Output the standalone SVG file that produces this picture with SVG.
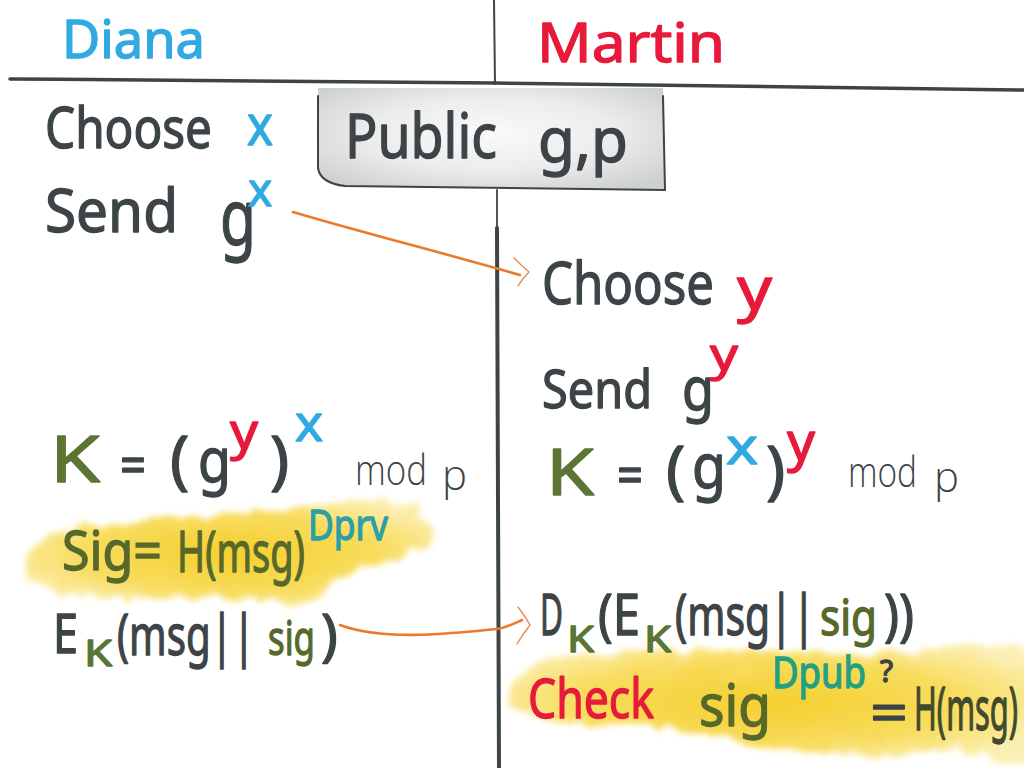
<svg xmlns="http://www.w3.org/2000/svg" width="1024" height="768" viewBox="0 0 1024 768">
<defs>
<style>
.f{font-family:"Noto Sans","DejaVu Sans",sans-serif;stroke-width:1.3;stroke-linejoin:round;}
.thin{font-family:"Open Sans","Noto Sans",sans-serif;font-weight:300;fill:#3d4447;}
.ink{fill:#3d4447;stroke:#3d4447;}
.blue{fill:#31a9e1;stroke:#31a9e1;}
.red{fill:#e81a3b;stroke:#e81a3b;}
.green{fill:#5b7634;stroke:#5b7634;}
.olive{fill:#56692b;stroke:#56692b;}
.dk{fill:#414a2c;stroke:#414a2c;}
.teal{fill:#2a9fa8;stroke:#2a9fa8;}
.tealg{fill:#22a084;stroke:#22a084;}
.line{stroke:#3d4447;fill:none;stroke-linecap:round;}
.arrow{stroke:#ec7a2c;fill:none;stroke-width:2.6;stroke-linecap:round;}
.head{stroke:#ef8a45;fill:none;stroke-width:1.4;stroke-linecap:round;stroke-linejoin:round;}
</style>
<radialGradient id="boxg" cx="50%" cy="45%" r="65%">
<stop offset="0" stop-color="#fafafa"/>
<stop offset="0.55" stop-color="#ececec"/>
<stop offset="1" stop-color="#cfd0d1"/>
</radialGradient>
<radialGradient id="hl" cx="50%" cy="50%" r="60%">
<stop offset="0" stop-color="#f5cf2f"/>
<stop offset="0.6" stop-color="#f8dc5c"/>
<stop offset="1" stop-color="#fcefb4"/>
</radialGradient>
<filter id="rough" x="-10%" y="-25%" width="120%" height="150%">
<feTurbulence type="fractalNoise" baseFrequency="0.045" numOctaves="3" seed="3" result="n"/>
<feDisplacementMap in="SourceGraphic" in2="n" scale="18" xChannelSelector="R" yChannelSelector="G" result="d"/>
<feGaussianBlur in="d" stdDeviation="3"/>
</filter>
</defs>
<rect width="1024" height="768" fill="#ffffff"/>

<g id="highlights">
<path filter="url(#rough)" fill="url(#hl)" d="M30,560 C 40,530 90,525 140,520 C 200,512 260,515 320,505 C 370,495 420,500 432,525 C 440,550 400,560 340,575 C 320,600 300,615 270,600 C 220,595 150,600 90,598 C 50,596 22,585 30,560 Z"/>
<path filter="url(#rough)" fill="url(#hl)" d="M510,690 C 520,660 570,650 640,652 C 720,648 800,650 880,655 C 950,645 1000,640 1030,650 L 1030,760 C 990,765 960,740 920,752 C 870,760 820,755 770,745 C 700,735 640,725 580,722 C 530,720 502,710 510,690 Z"/>
</g>

<g id="grid">
<path class="line" stroke-width="3.5" d="M10,79 C 200,80 400,82 495,83 C 700,85 900,88 1024,90"/>
<path class="line" stroke-width="2" d="M494,0 L495,84"/>
<path class="line" stroke-width="1.8" d="M497,190 L497,230"/>
<path class="line" stroke-width="4" d="M497,228 L499,768"/>
</g>

<g id="header-diana"><text class="f blue" x="62" y="58" font-size="52" textLength="143" lengthAdjust="spacingAndGlyphs">Diana</text></g>
<g id="header-martin"><text class="f red" x="537" y="62" font-size="54" textLength="188" lengthAdjust="spacingAndGlyphs">Martin</text></g>

<g id="public-box">
<path fill="url(#boxg)" d="M318,88 L663,88 L665,190 L345,186 Q320,183 318,168 Z"/>
<path class="line" stroke-width="2" d="M318,96 L318,168 Q320,183 345,186 L665,190 L663,96"/>
<text class="f ink" x="345" y="158" font-size="62" textLength="152" lengthAdjust="spacingAndGlyphs">Public</text>
<text class="f ink" x="538" y="162" font-size="62" textLength="90" lengthAdjust="spacingAndGlyphs">g,p</text>
</g>

<g id="diana-choose">
<text class="f ink" x="45" y="148" font-size="56" textLength="167" lengthAdjust="spacingAndGlyphs">Choose</text>
<text class="f blue" x="247" y="145" font-size="56" textLength="26" lengthAdjust="spacingAndGlyphs">x</text>
</g>
<g id="diana-send">
<text class="f ink" x="45" y="232" font-size="60" textLength="133" lengthAdjust="spacingAndGlyphs">Send</text>
<text class="f ink" x="220" y="245" font-size="76" textLength="36" lengthAdjust="spacingAndGlyphs">g</text>
<text class="f blue" x="248" y="206" font-size="46" textLength="24" lengthAdjust="spacingAndGlyphs">x</text>
</g>

<g id="martin-choose">
<text class="f ink" x="542" y="304" font-size="58" textLength="172" lengthAdjust="spacingAndGlyphs">Choose</text>
<text class="f red" x="737" y="310" font-size="60" textLength="35" lengthAdjust="spacingAndGlyphs">y</text>
</g>
<g id="martin-send">
<text class="f ink" x="542" y="408" font-size="52" textLength="110" lengthAdjust="spacingAndGlyphs">Send</text>
<text class="f ink" x="682" y="410" font-size="60" textLength="32" lengthAdjust="spacingAndGlyphs">g</text>
<text class="f red" x="710" y="370" font-size="44" textLength="28" lengthAdjust="spacingAndGlyphs">y</text>
</g>

<g id="martin-key">
<text class="f green" x="546" y="495" font-size="64" textLength="48" lengthAdjust="spacingAndGlyphs">K</text>
<text class="f ink" x="617" y="494" font-size="52" textLength="26" lengthAdjust="spacingAndGlyphs">=</text>
<text class="f ink" x="666" y="492" font-size="64">(</text>
<text class="f ink" x="692" y="488" font-size="62" textLength="34" lengthAdjust="spacingAndGlyphs">g</text>
<text class="f blue" x="726" y="464" font-size="50" textLength="32" lengthAdjust="spacingAndGlyphs">x</text>
<text class="f ink" x="766" y="492" font-size="64">)</text>
<text class="f red" x="787" y="460" font-size="52" textLength="28" lengthAdjust="spacingAndGlyphs">y</text>
<text class="thin" x="848" y="487" font-size="42" textLength="69" lengthAdjust="spacingAndGlyphs">mod</text>
<text class="thin" x="934" y="492" font-size="42">p</text>
</g>

<g id="diana-key">
<text class="f green" x="50" y="482" font-size="64" textLength="50" lengthAdjust="spacingAndGlyphs">K</text>
<text class="f ink" x="120" y="484" font-size="52" textLength="26" lengthAdjust="spacingAndGlyphs">=</text>
<text class="f ink" x="170" y="482" font-size="64">(</text>
<text class="f ink" x="198" y="482" font-size="62" textLength="33" lengthAdjust="spacingAndGlyphs">g</text>
<text class="f red" x="230" y="449" font-size="50" textLength="28" lengthAdjust="spacingAndGlyphs">y</text>
<text class="f ink" x="270" y="482" font-size="64">)</text>
<text class="f blue" x="295" y="441" font-size="50" textLength="28" lengthAdjust="spacingAndGlyphs">x</text>
<text class="thin" x="355" y="485" font-size="42" textLength="72" lengthAdjust="spacingAndGlyphs">mod</text>
<text class="thin" x="442" y="490" font-size="42">p</text>
</g>

<g id="diana-sign">
<text class="f olive" x="62" y="570" font-size="54" textLength="100" lengthAdjust="spacingAndGlyphs">Sig=</text>
<text class="f olive" x="177" y="572" font-size="56" textLength="128" lengthAdjust="spacingAndGlyphs">H(msg)</text>
<text class="f teal" x="308" y="540" font-size="42" textLength="80" lengthAdjust="spacingAndGlyphs">Dprv</text>
</g>

<g id="diana-encrypt">
<text class="f ink" x="53" y="653" font-size="54" textLength="25" lengthAdjust="spacingAndGlyphs">E</text>
<text class="f green" x="84" y="666" font-size="36" textLength="28" lengthAdjust="spacingAndGlyphs">K</text>
<text class="f ink" x="117" y="655" font-size="56" textLength="138" lengthAdjust="spacingAndGlyphs">(msg||</text>
<text class="f olive" x="268" y="655" font-size="48" textLength="47" lengthAdjust="spacingAndGlyphs">sig</text>
<text class="f ink" x="321" y="655" font-size="56">)</text>
</g>

<g id="martin-decrypt">
<text class="f ink" x="540" y="635" font-size="56" textLength="23" lengthAdjust="spacingAndGlyphs">D</text>
<text class="f green" x="567" y="652" font-size="36" textLength="27" lengthAdjust="spacingAndGlyphs">K</text>
<text class="f ink" x="598" y="635" font-size="56" textLength="42" lengthAdjust="spacingAndGlyphs">(E</text>
<text class="f green" x="644" y="652" font-size="36" textLength="27" lengthAdjust="spacingAndGlyphs">K</text>
<text class="f ink" x="675" y="635" font-size="56" textLength="140" lengthAdjust="spacingAndGlyphs">(msg||</text>
<text class="f olive" x="820" y="635" font-size="50" textLength="57" lengthAdjust="spacingAndGlyphs">sig</text>
<text class="f ink" x="884" y="635" font-size="56" textLength="30" lengthAdjust="spacingAndGlyphs">))</text>
</g>

<g id="martin-check">
<text class="f red" x="528" y="718" font-size="54" textLength="126" lengthAdjust="spacingAndGlyphs">Check</text>
<text class="f olive" x="699" y="726" font-size="58" textLength="72" lengthAdjust="spacingAndGlyphs">sig</text>
<text class="f tealg" x="772" y="688" font-size="44" textLength="94" lengthAdjust="spacingAndGlyphs">Dpub</text>
<text class="f ink" x="880" y="682" font-size="30">?</text>
<text class="f ink" x="870" y="732" font-size="54" textLength="38" lengthAdjust="spacingAndGlyphs">=</text>
<text class="f dk" x="914" y="730" font-size="60" textLength="104" lengthAdjust="spacingAndGlyphs">H(msg)</text>
</g>

<g id="connectors">
<path class="arrow" d="M293,212 C 360,232 440,252 520,275"/>
<path class="head" d="M514,258 Q522,266 529,272 Q522,279 518,286"/>
<path class="arrow" d="M340,625 C 380,640 440,635 497,629 C 505,628 513,624 522,620"/>
<path class="head" d="M518,607 Q525,616 530,625 Q523,634 517,644"/>
</g>
</svg>
